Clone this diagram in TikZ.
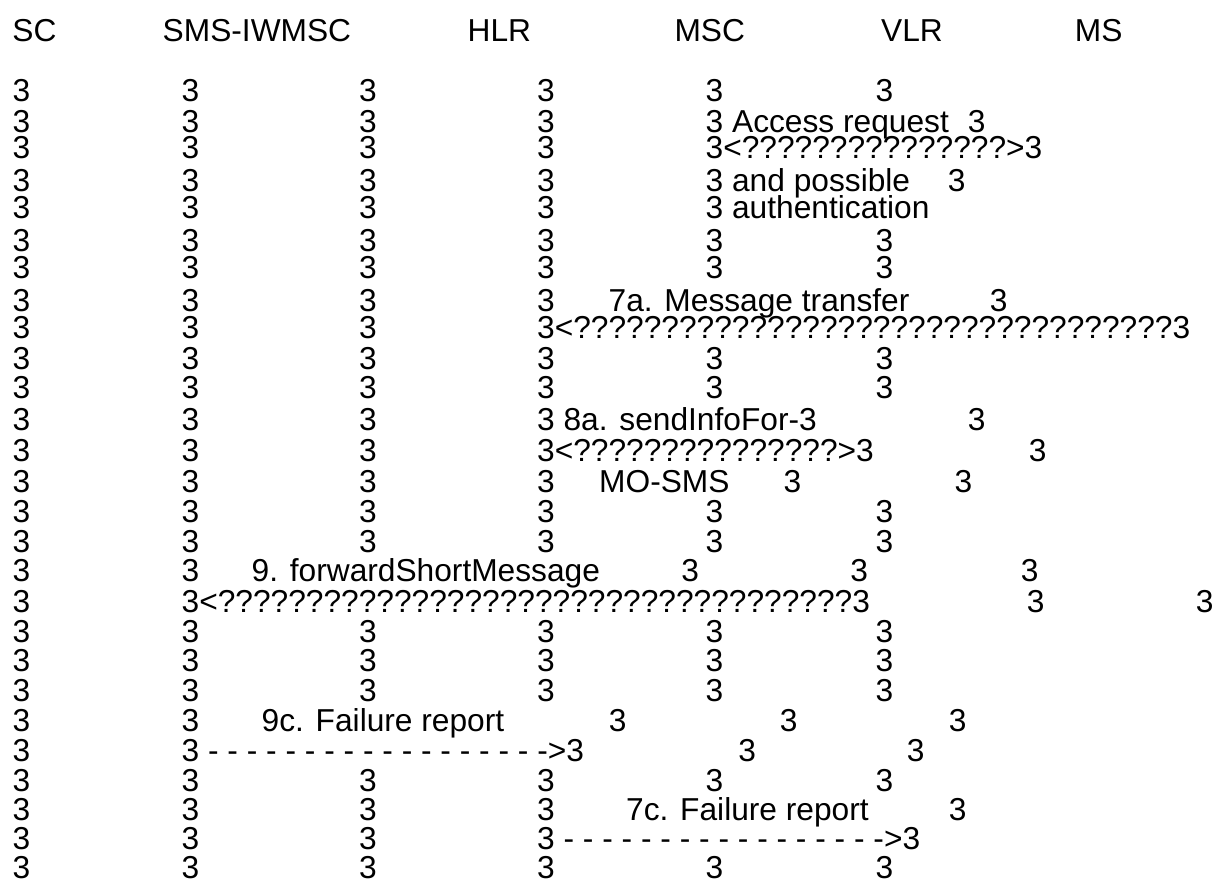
\documentclass[tikz,border=0pt]{standalone}
\usepackage{fontspec}
\setmainfont{Liberation Sans}
\usepackage{tikz}
\newcommand\chartfont{\fontsize{31.7}{38}\selectfont}
\def\cols{{12.5,181.5,359,537,705.5,875.5}}

\begin{document}
\begin{tikzpicture}[x=1pt, y=-1pt,
    every node/.style={anchor=base west, inner sep=0pt, font=\chartfont}]
        \useasboundingbox (0,0) rectangle (1216,885);
        % entity names
        \node (sc) at (12.3,42) {SC};
        \node (iwmsc) at (162.5,42) {SMS-IWMSC};
        \node (hlr) at (467.5,42) {HLR};
        \node (msc) at (674.3,42) {MSC};
        \node (vlr) at (881,42) {VLR};
        \node (ms) at (1074.7,42) {MS};
        % lifelines: row / baseline / number of columns from the left
        \foreach \r/\y/\m in {1/102/6, 2/132.5/4, 3/158.5/4, 4/191.5/4, 5/219/4, 6/251.5/6,
                              7/278.5/6, 8/311.5/4, 9/339/3, 10/370/6, 11/399/6, 12/430/3,
                              13/461.5/3, 14/492.5/4, 15/522.5/6, 16/552/6, 17/581.5/2,
                              18/612/1, 19/642.5/6, 20/671.5/6, 21/701/6, 22/731.5/2,
                              23/761.5/1, 24/791/6, 25/820/4, 26/849.5/3, 27/878/6}
            \foreach \c in {1,...,\m}{
                \pgfmathsetmacro\xx{\cols[\c-1]}
                \node (l\r-\c) at (\xx,\y) {3};
            }
        % access request
        \node (acc) at (705.5,132.5) {3 Access request};
        \node (acc-r) at (967.7,132.5) {3};
        \node (acc-arr) at (705.5,158.5) {3<???????????????>3};
        \node (poss) at (705.5,191.5) {3 and possible};
        \node (poss-r) at (947.7,191.5) {3};
        \node (auth) at (705.5,219) {3 authentication};
        % 7a
        \node (msg) at (608.5,311.5) {7a. Message transfer};
        \node (msg-r) at (989.7,311.5) {3};
        \node (msg-arr) at (537,339) {3<??????????????????????????????????3};
        % 8a
        \node (sif) at (537,430) {3 8a. sendInfoFor-3};
        \node (sif-r) at (967.7,430) {3};
        \node (sif-arr) at (537,461.5) {3<???????????????>3};
        \node (sif-arr-r) at (1028.7,461.5) {3};
        \node (mosms) at (599,492.5) {MO-SMS};
        \node (mosms-r1) at (783.4,492.5) {3};
        \node (mosms-r2) at (954.3,492.5) {3};
        % 9
        \node (fsm) at (251.5,581.5) {9. forwardShortMessage};
        \node (fsm-r1) at (681.2,581.5) {3};
        \node (fsm-r2) at (850.2,581.5) {3};
        \node (fsm-r3) at (1020.7,581.5) {3};
        \node (fsm-arr) at (181.5,612) {3<????????????????????????????????????3};
        \node (fsm-arr-r1) at (1026.7,612) {3};
        \node (fsm-arr-r2) at (1195.7,612) {3};
        % 9c
        \node (fail9) at (261.5,731.5) {9c. Failure report};
        \node (fail9-r1) at (608.7,731.5) {3};
        \node (fail9-r2) at (779.7,731.5) {3};
        \node (fail9-r3) at (948.7,731.5) {3};
        \node (fail9-arr) at (181.5,761.5) {3 - - - - - - - - - - - - - - - - - ->3};
        \node (fail9-arr-r1) at (738.2,761.5) {3};
        \node (fail9-arr-r2) at (906.7,761.5) {3};
        % 7c
        \node (fail7) at (626,820) {7c. Failure report};
        \node (fail7-r) at (948.7,820) {3};
        \node (fail7-arr) at (537,849.5) {3 - - - - - - - - - - - - - - - - ->3};
    \end{tikzpicture}
\end{document}
